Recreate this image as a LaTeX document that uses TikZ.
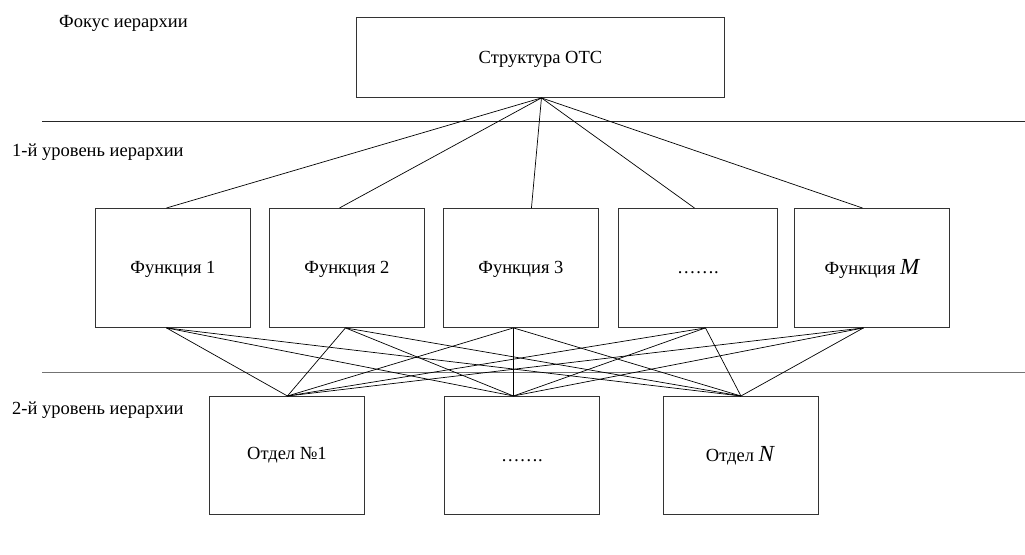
\documentclass[tikz,border=0pt]{standalone}
\usepackage{fontspec}
\setmainfont{Liberation Serif}
\begin{document}
\begin{tikzpicture}[x=1pt,y=-1pt,
  every node/.style={font=\fontsize{18.5}{22}\selectfont},
  box/.style={draw=black!80,line width=0.9pt,inner sep=0pt,anchor=north west},
  lbl/.style={anchor=west,inner sep=0pt},
  link/.style={line width=0.7pt,black},
  sep/.style={line width=0.9pt,black!85},
  sepgray/.style={line width=0.9pt,black!55}]
\useasboundingbox (0,0) rectangle (1025,554);
% labels
\node[lbl] (l0) at (59,23) {Фокус иерархии};
\node[lbl] (l1) at (12,152) {1-й уровень иерархии};
\node[lbl] (l2) at (12,410) {2-й уровень иерархии};
% separators
\coordinate (s1a) at (42,121); \coordinate (s1b) at (1025,121);
\coordinate (s2a) at (42,372); \coordinate (s2b) at (1025,372);
\draw[sep] (s1a) -- (s1b);
\draw[sepgray] (s2a) -- (s2b);
% top
\node[box,minimum width=368pt,minimum height=80pt] (top) at (356,17) {};
\node (toptxt) at ([yshift=-2pt]top.center) {Структура ОТС};
% functions
\node[box,minimum width=155pt,minimum height=119pt] (f1) at (95,208) {};
\node[box,minimum width=155pt,minimum height=119pt] (f2) at (269,208) {};
\node[box,minimum width=155pt,minimum height=119pt] (f3) at (443,208) {};
\node[box,minimum width=159pt,minimum height=119pt] (f4) at (618,208) {};
\node[box,minimum width=155pt,minimum height=119pt] (fm) at (794,208) {};
\node at ([yshift=-1pt]f1.center) {Функция 1};
\node at ([yshift=-1pt]f2.center) {Функция 2};
\node at ([yshift=-1pt]f3.center) {Функция 3};
\node at ([yshift=-5pt]f4.center) {…….};
\node at ([yshift=-1pt]fm.center) {Функция {\fontsize{23}{23}\selectfont\itshape M}};
% departments
\node[box,minimum width=155pt,minimum height=118pt] (o1) at (209,396) {};
\node[box,minimum width=155pt,minimum height=118pt] (o2) at (444,396) {};
\node[box,minimum width=155pt,minimum height=118pt] (on) at (663,396) {};
\node at (o1.center) {Отдел №1};
\node at ([yshift=-5pt]o2.center) {…….};
\node at ([xshift=-1pt]on.center) {Отдел {\fontsize{23}{23}\selectfont\itshape N}};
% attach points
\coordinate (apex) at ([xshift=1pt]top.south);
\coordinate (f1t) at ([xshift=-6.5pt]f1.north);
\coordinate (f2t) at ([xshift=-7.5pt]f2.north);
\coordinate (f3t) at ([xshift=10.5pt]f3.north);
\coordinate (f4t) at ([xshift=-3.5pt]f4.north);
\coordinate (fmt) at ([xshift=-9.5pt]fm.north);
\coordinate (f1b) at ([xshift=-6.5pt]f1.south);
\coordinate (f2b) at ([xshift=-1.5pt]f2.south);
\coordinate (f3b) at ([xshift=-7.5pt]f3.south);
\coordinate (f4b) at ([xshift=7.5pt]f4.south);
\coordinate (fmb) at ([xshift=-8.5pt]fm.south);
\coordinate (o1t) at ([xshift=0.5pt]o1.north);
\coordinate (o2t) at ([xshift=-8.5pt]o2.north);
\coordinate (ont) at (on.north);
% top links
\foreach \f in {f1t,f2t,f3t,f4t,fmt} \draw[link] (apex) -- (\f);
% bipartite links
\foreach \f in {f1b,f2b,f3b,f4b,fmb}
  \foreach \o in {o1t,o2t,ont}
    \draw[link] (\f) -- (\o);
\end{tikzpicture}
\end{document}
